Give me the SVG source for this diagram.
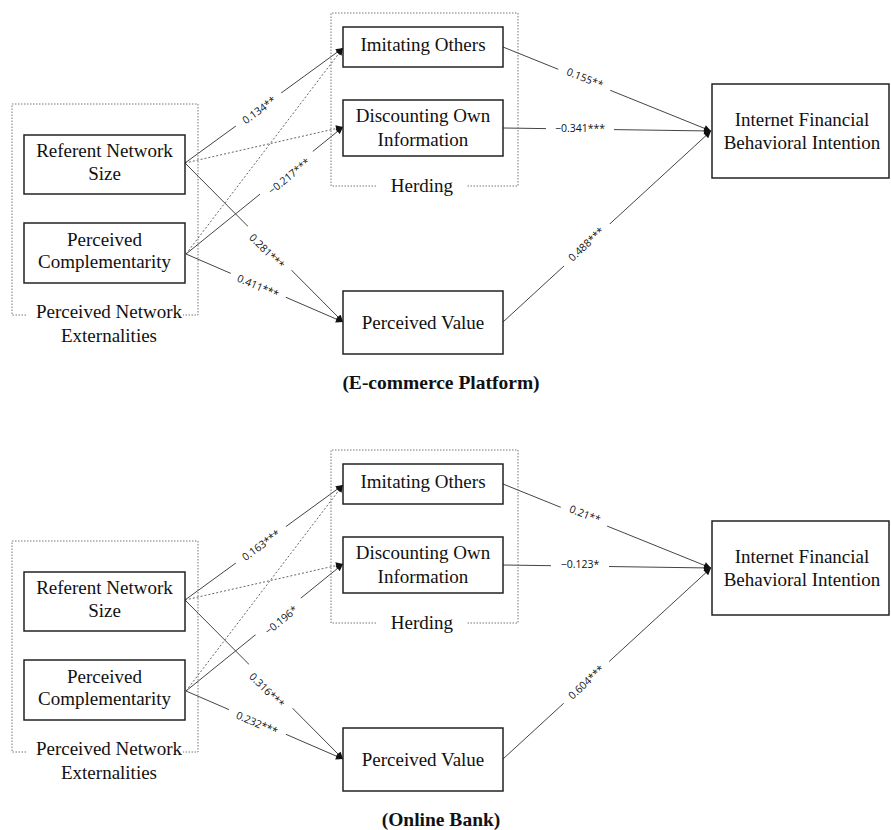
<svg xmlns="http://www.w3.org/2000/svg" width="891" height="830" viewBox="0 0 891 830">
<style>
.box{fill:#fff;stroke:#222;stroke-width:1.5}
.grp{fill:none;stroke:#777;stroke-width:1;stroke-dasharray:1.5 1.5}
.nt{font-family:"Liberation Serif","Times New Roman",serif;font-size:19px;fill:#111;text-anchor:middle}
.ttl{font-family:"Liberation Serif","Times New Roman",serif;font-size:19.5px;font-weight:bold;fill:#111;text-anchor:middle}
.sol{fill:none;stroke:#444;stroke-width:1;marker-end:url(#ah)}
.dot{fill:none;stroke:#666;stroke-width:1;stroke-dasharray:2 2;marker-end:url(#ah)}
.lb{font-family:"Open Sans","Liberation Sans",sans-serif;font-size:10.5px;fill:#111;text-anchor:middle}
.bg{fill:#fff}
</style>
<defs>
<marker id="ah" viewBox="0 0 10 10" refX="10" refY="5" markerWidth="9" markerHeight="7" markerUnits="userSpaceOnUse" orient="auto">
<path d="M0,0 L10,5 L0,10 z" fill="#111"/>
</marker>
</defs>
<rect width="891" height="830" fill="#fff"/>

<!-- ===== Top: E-commerce Platform ===== -->
<g id="top">
<g id="connectors-top">
<line class="sol" x1="185" y1="163" x2="343" y2="48"/>
<line class="dot" x1="185" y1="163" x2="343" y2="127"/>
<line class="sol" x1="185" y1="163" x2="343" y2="322"/>
<line class="dot" x1="186" y1="254" x2="343" y2="48"/>
<line class="sol" x1="186" y1="254" x2="343" y2="127"/>
<line class="sol" x1="186" y1="254" x2="343" y2="322"/>
<line class="sol" x1="503" y1="47" x2="711" y2="131"/>
<line class="sol" x1="503" y1="128" x2="711" y2="131"/>
<line class="sol" x1="503" y1="322" x2="711" y2="131"/>
<g transform="translate(259,110) rotate(-36)"><rect class="bg" x="-28" y="-8" width="56" height="16"/><text class="lb" y="4">0.134**</text></g>
<g transform="translate(289,176) rotate(-39)"><rect class="bg" x="-34" y="-8" width="68" height="16"/><text class="lb" y="4">−0.217***</text></g>
<g transform="translate(267,251) rotate(45)"><rect class="bg" x="-31" y="-8" width="62" height="16"/><text class="lb" y="4">0.281***</text></g>
<g transform="translate(258,286) rotate(23.4)"><rect class="bg" x="-30" y="-8" width="60" height="16"/><text class="lb" y="4">0.411***</text></g>
<g transform="translate(585,78) rotate(22)"><rect class="bg" x="-28" y="-8" width="56" height="16"/><text class="lb" y="4">0.155**</text></g>
<g transform="translate(580,128)"><rect class="bg" x="-34" y="-8" width="68" height="16"/><text class="lb" y="4">−0.341***</text></g>
<g transform="translate(586,244) rotate(-42.6)"><rect class="bg" x="-31" y="-8" width="62" height="16"/><text class="lb" y="4">0.488***</text></g>
</g>
<g id="pne-top">
<path class="grp" d="M26,315 H12 V104 H198 V315 H183"/>
<text class="nt" x="109" y="318">Perceived Network</text>
<text class="nt" x="109" y="342">Externalities</text>
</g>
<g id="herding-top">
<path class="grp" d="M376,186 H331 V13 H518 V186 H467"/>
<text class="nt" x="422" y="192">Herding</text>
</g>
<g id="rns-top">
<rect class="box" x="24" y="135" width="161" height="59"/>
<text class="nt" x="104.5" y="157">Referent Network</text>
<text class="nt" x="104.5" y="180">Size</text>
</g>
<g id="pc-top">
<rect class="box" x="24" y="223" width="161" height="60"/>
<text class="nt" x="104.5" y="246">Perceived</text>
<text class="nt" x="104.5" y="268">Complementarity</text>
</g>
<g id="io-top">
<rect class="box" x="343" y="27" width="160" height="40"/>
<text class="nt" x="423" y="51">Imitating Others</text>
</g>
<g id="doi-top">
<rect class="box" x="343" y="100" width="160" height="56"/>
<text class="nt" x="423" y="122">Discounting Own</text>
<text class="nt" x="423" y="146">Information</text>
</g>
<g id="pv-top">
<rect class="box" x="343" y="291" width="160" height="63"/>
<text class="nt" x="423" y="329">Perceived Value</text>
</g>
<g id="ifbi-top">
<rect class="box" x="712" y="84" width="177" height="94"/>
<text class="nt" x="802" y="126">Internet Financial</text>
<text class="nt" x="802" y="149">Behavioral Intention</text>
</g>
<text class="ttl" x="441" y="389">(E-commerce Platform)</text>
</g>

<!-- ===== Bottom: Online Bank ===== -->
<g id="bottom" transform="translate(0,437)">
<g id="connectors-bottom">
<line class="sol" x1="185" y1="163" x2="343" y2="48"/>
<line class="dot" x1="185" y1="163" x2="343" y2="127"/>
<line class="sol" x1="185" y1="163" x2="343" y2="322"/>
<line class="dot" x1="186" y1="254" x2="343" y2="48"/>
<line class="sol" x1="186" y1="254" x2="343" y2="127"/>
<line class="sol" x1="186" y1="254" x2="343" y2="322"/>
<line class="sol" x1="503" y1="47" x2="711" y2="131"/>
<line class="sol" x1="503" y1="128" x2="711" y2="131"/>
<line class="sol" x1="503" y1="322" x2="711" y2="131"/>
<g transform="translate(261,108) rotate(-36)"><rect class="bg" x="-31" y="-8" width="62" height="16"/><text class="lb" y="4">0.163***</text></g>
<g transform="translate(281,183) rotate(-39)"><rect class="bg" x="-29" y="-8" width="58" height="16"/><text class="lb" y="4">−0.196*</text></g>
<g transform="translate(267,253) rotate(45)"><rect class="bg" x="-31" y="-8" width="62" height="16"/><text class="lb" y="4">0.316***</text></g>
<g transform="translate(257,286) rotate(23.4)"><rect class="bg" x="-31" y="-8" width="62" height="16"/><text class="lb" y="4">0.232***</text></g>
<g transform="translate(585,77) rotate(22)"><rect class="bg" x="-25" y="-8" width="50" height="16"/><text class="lb" y="4">0.21**</text></g>
<g transform="translate(580,127)"><rect class="bg" x="-29" y="-8" width="58" height="16"/><text class="lb" y="4">−0.123*</text></g>
<g transform="translate(586,245) rotate(-42.6)"><rect class="bg" x="-31" y="-8" width="62" height="16"/><text class="lb" y="4">0.604***</text></g>
</g>
<g id="pne-bottom">
<path class="grp" d="M26,315 H12 V104 H198 V315 H183"/>
<text class="nt" x="109" y="318">Perceived Network</text>
<text class="nt" x="109" y="342">Externalities</text>
</g>
<g id="herding-bottom">
<path class="grp" d="M376,186 H331 V13 H518 V186 H467"/>
<text class="nt" x="422" y="192">Herding</text>
</g>
<g id="rns-bottom">
<rect class="box" x="24" y="135" width="161" height="59"/>
<text class="nt" x="104.5" y="157">Referent Network</text>
<text class="nt" x="104.5" y="180">Size</text>
</g>
<g id="pc-bottom">
<rect class="box" x="24" y="223" width="161" height="60"/>
<text class="nt" x="104.5" y="246">Perceived</text>
<text class="nt" x="104.5" y="268">Complementarity</text>
</g>
<g id="io-bottom">
<rect class="box" x="343" y="27" width="160" height="40"/>
<text class="nt" x="423" y="51">Imitating Others</text>
</g>
<g id="doi-bottom">
<rect class="box" x="343" y="100" width="160" height="56"/>
<text class="nt" x="423" y="122">Discounting Own</text>
<text class="nt" x="423" y="146">Information</text>
</g>
<g id="pv-bottom">
<rect class="box" x="343" y="291" width="160" height="63"/>
<text class="nt" x="423" y="329">Perceived Value</text>
</g>
<g id="ifbi-bottom">
<rect class="box" x="712" y="84" width="177" height="94"/>
<text class="nt" x="802" y="126">Internet Financial</text>
<text class="nt" x="802" y="149">Behavioral Intention</text>
</g>
<text class="ttl" x="441" y="389">(Online Bank)</text>
</g>
</svg>
